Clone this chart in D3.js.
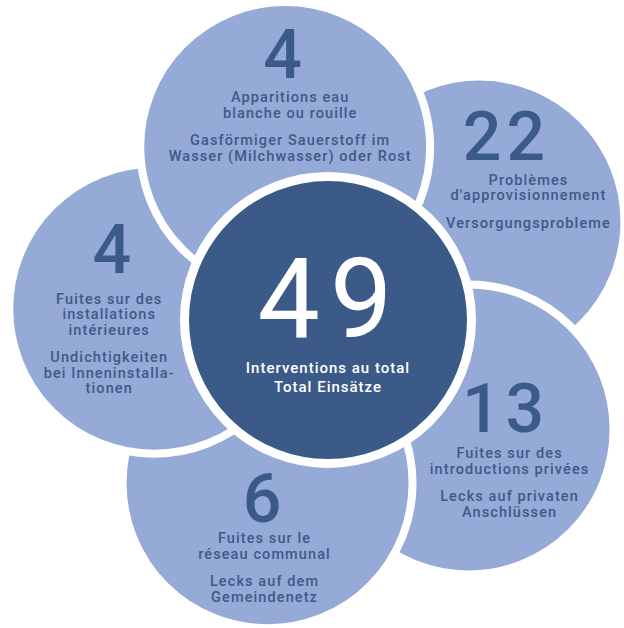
<!DOCTYPE html>
<html>
<head>
<meta charset="utf-8">
<script src="https://cdn.jsdelivr.net/npm/d3@7"></script>
<style>
  html, body { margin: 0; padding: 0; background: #ffffff; }
  svg { display: block; }
</style>
</head>
<body>
<svg id="chart" width="624" height="628"></svg>
<script>
// ---- data ----
const categories = ["whiteRust", "supply", "privateLeaks", "networkLeaks", "indoorLeaks"];
const values = [4, 22, 13, 6, 4];
const labelsFR = [
  ["Apparitions eau", "blanche ou rouille"],
  ["Problèmes", "d'approvisionnement"],
  ["Fuites sur des", "introductions privées"],
  ["Fuites sur le", "réseau communal"],
  ["Fuites sur des", "installations", "intérieures"]
];
const labelsDE = [
  ["Gasförmiger Sauerstoff im", "Wasser (Milchwasser) oder Rost"],
  ["Versorgungsprobleme"],
  ["Lecks auf privaten", "Anschlüssen"],
  ["Lecks auf dem", "Gemeindenetz"],
  ["Undichtigkeiten", "bei Inneninstalla-", "tionen"]
];
const totalValue = 49;
const totalLabels = ["Interventions au total", "Total Einsätze"];

// ---- layout (not data) ----
const layout = {
  cx: 331, cy: 318, ring: 177, petalR: 145, petalStroke: 8,
  diskCx: 328, diskCy: 320, diskR: 143.5, diskStroke: 9,
  angleOffset: -15,
  // per-petal text anchor offsets from petal center: [numDx, numDy, lblDx, lblDy]
  textOffsets: [
    [0, -69, 5, -45],
    [27, -62, 49, -37],
    [37, 3, 41, 29],
    [-3, 39, -3, 60],
    [-40, -36, -45, -5]
  ],
  drawOrder: [1, 2, 3, 4, 0],
  lineH: 15.5, groupGap: 12
};
const colors = { petal: "#95aad6", dark: "#3c5a87", text: "#3d5a88", white: "#ffffff" };

const svg = d3.select("#chart");

// angle scale: index -> degrees clockwise from top
const angleScale = d3.scaleLinear()
  .domain([0, categories.length])
  .range([layout.angleOffset, layout.angleOffset + 360]);

const petals = categories.map((c, i) => {
  const a = angleScale(i) * Math.PI / 180;
  return {
    key: c, i, value: values[i],
    x: layout.cx + layout.ring * Math.sin(a),
    y: layout.cy - layout.ring * Math.cos(a),
    fr: labelsFR[i], de: labelsDE[i]
  };
});

const ordered = layout.drawOrder.map(i => petals[i]);

const g = svg.append("g");

const pg = g.selectAll("g.petal").data(ordered).join("g").attr("class", "petal");

pg.append("circle")
  .attr("cx", d => d.x).attr("cy", d => d.y)
  .attr("r", layout.petalR)
  .attr("fill", colors.petal)
  .attr("stroke", colors.white)
  .attr("stroke-width", layout.petalStroke);

// numbers
pg.append("text")
  .attr("x", d => d.x + layout.textOffsets[d.i][0])
  .attr("y", d => d.y + layout.textOffsets[d.i][1])
  .attr("text-anchor", "middle")
  .attr("fill", colors.dark)
  .style("font-family", "Roboto, 'DejaVu Sans', sans-serif")
  .style("font-weight", 500)
  .style("font-size", "68px")
  .style("letter-spacing", "5px")
  .text(d => d.value);

// labels
pg.each(function(d) {
  const sel = d3.select(this);
  const x = d.x + layout.textOffsets[d.i][2];
  let y = d.y + layout.textOffsets[d.i][3];
  const t = sel.append("text")
    .attr("text-anchor", "middle")
    .attr("fill", colors.text)
    .style("font-family", "Roboto, 'DejaVu Sans', sans-serif")
    .style("font-weight", 500)
    .style("font-size", "14.5px")
    .style("letter-spacing", "1.1px");
  d.fr.forEach((line, k) => {
    t.append("tspan").attr("x", x).attr("y", y + k * layout.lineH).text(line);
  });
  const yDe = y + (d.fr.length - 1) * layout.lineH + layout.lineH + layout.groupGap;
  d.de.forEach((line, k) => {
    t.append("tspan").attr("x", x).attr("y", yDe + k * layout.lineH).text(line);
  });
});

// central disk
const center = g.append("g");
center.append("circle")
  .attr("cx", layout.diskCx).attr("cy", layout.diskCy)
  .attr("r", layout.diskR)
  .attr("fill", colors.dark)
  .attr("stroke", colors.white)
  .attr("stroke-width", layout.diskStroke);

center.append("text")
  .attr("x", layout.diskCx + 2)
  .attr("y", layout.diskCy + 17)
  .attr("text-anchor", "middle")
  .attr("fill", colors.white)
  .style("font-family", "Roboto, 'DejaVu Sans', sans-serif")
  .style("font-weight", 400)
  .style("font-size", "111px")
  .style("letter-spacing", "10px")
  .text(totalValue);

const tt = center.append("text")
  .attr("text-anchor", "middle")
  .attr("fill", colors.white)
  .style("font-family", "Roboto, 'DejaVu Sans', sans-serif")
  .style("font-weight", 500)
  .style("font-size", "15px")
  .style("letter-spacing", "1px");
totalLabels.forEach((line, k) => {
  tt.append("tspan").attr("x", layout.diskCx).attr("y", 373 + k * 19).text(line);
});
</script>
</body>
</html>
